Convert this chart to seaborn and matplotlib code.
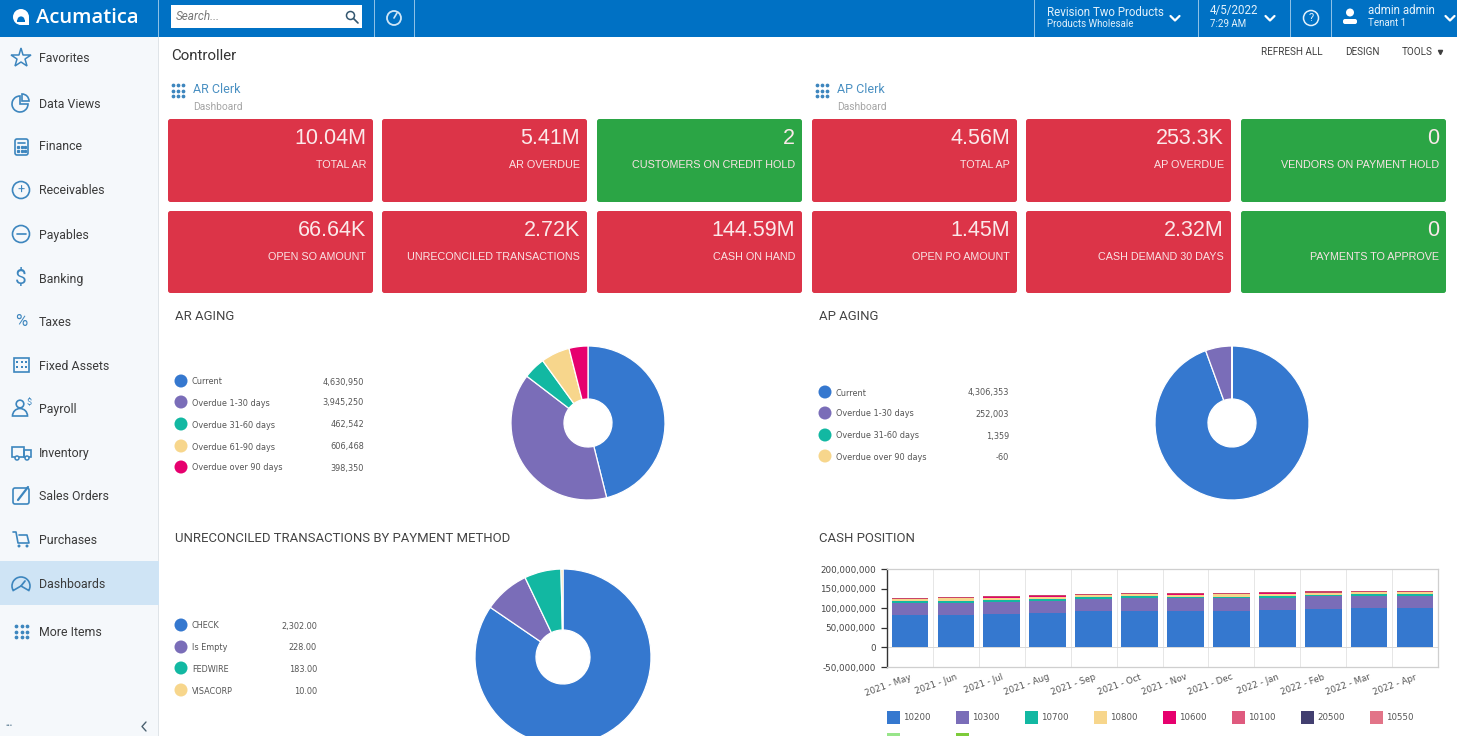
import matplotlib
matplotlib.use("Agg")
import matplotlib.pyplot as plt
from matplotlib.patches import Rectangle, FancyBboxPatch, Circle, Wedge
import numpy as np
import seaborn as sns

W, H = 1457, 736

# ---------- data ----------
ar_labels = ["Current", "Overdue 1-30 days", "Overdue 31-60 days", "Overdue 61-90 days", "Overdue over 90 days"]
ar_values = [4630950, 3945250, 462542, 606468, 398350]
ap_labels = ["Current", "Overdue 1-30 days", "Overdue 31-60 days", "Overdue over 90 days"]
ap_values = [4306353, 252003, 1359, -60]
un_labels = ["CHECK", "Is Empty", "FEDWIRE", "VISACORP"]
un_values = [2302.00, 228.00, 183.00, 10.00]

months = ["2021 - May", "2021 - Jun", "2021 - Jul", "2021 - Aug", "2021 - Sep", "2021 - Oct",
          "2021 - Nov", "2021 - Dec", "2022 - Jan", "2022 - Feb", "2022 - Mar", "2022 - Apr"]
acct_ids = ["10200", "10300", "10700", "10800", "10600", "10100", "20500", "10550", "", ""]
cash_10200 = [82, 83, 86, 88, 92, 94, 93, 93, 95, 97, 101, 101]
cash_10300 = [30, 30, 30, 30, 32, 32, 32, 32, 32, 33, 30, 30]
cash_10700 = [6, 6, 5, 5, 4, 4, 4, 4, 5, 4, 5, 5]
cash_10800 = [5, 6, 6, 6, 5, 5, 5, 6, 5, 5, 5, 5]
cash_10600 = [1, 1, 1, 1, 1, 1, 1, 1, 1, 1, 1, 1]
cash_10100 = [3, 3, 3, 3, 3, 3, 3, 3, 3, 3, 3, 3]
cash_20500 = [0] * 12
cash_10550 = [0] * 12
cash_extra1 = [0] * 12
cash_extra2 = [0] * 12

tile_values = [["10.04M", "5.41M", "2", "4.56M", "253.3K", "0"],
               ["66.64K", "2.72K", "144.59M", "1.45M", "2.32M", "0"]]
tile_labels = [["TOTAL AR", "AR OVERDUE", "CUSTOMERS ON CREDIT HOLD", "TOTAL AP", "AP OVERDUE", "VENDORS ON PAYMENT HOLD"],
               ["OPEN SO AMOUNT", "UNRECONCILED TRANSACTIONS", "CASH ON HAND", "OPEN PO AMOUNT", "CASH DEMAND 30 DAYS", "PAYMENTS TO APPROVE"]]
menu_items = ["Favorites", "Data Views", "Finance", "Receivables", "Payables", "Banking", "Taxes",
              "Fixed Assets", "Payroll", "Inventory", "Sales Orders", "Purchases", "Dashboards", "More Items"]

# ---------- style ----------
BLUE, PURPLE, TEAL, CREAM, PINK = "#3578CF", "#7A6DB8", "#12B8A2", "#F7D68C", "#E6006E"
series_colors = [BLUE, PURPLE, TEAL, CREAM, PINK, "#C94668", "#423F70", "#E27488", "#98E58A", "#7DCB3A"]
legend_colors = [BLUE, PURPLE, TEAL, CREAM, PINK, "#DF5A7E", "#423F70", "#E27488", "#98E58A", "#7DCB3A"]
HEAD = "#0071C4"; RED = "#DC3448"; GREEN = "#2BA545"; ICON = "#3D86BE"; TXT = "#3E3E3E"

sns.set_theme(style="white")
plt.rcParams["font.family"] = ["Roboto", "DejaVu Sans"]

fig = plt.figure(figsize=(W / 100, H / 100), dpi=100, facecolor="white")
ui = fig.add_axes([0, 0, 1, 1])
ui.set_xlim(0, W); ui.set_ylim(H, 0); ui.axis("off")


def px_axes(x0, y0, x1, y1, **kw):
    return fig.add_axes([x0 / W, 1 - y1 / H, (x1 - x0) / W, (y1 - y0) / H], **kw)


# ---------- header + sidebar ----------
ui.add_patch(Rectangle((0, 37), 159, H - 37, fc="#F5F8FB", ec="none"))
ui.add_patch(Rectangle((158, 37), 1, H - 37, fc="#DFE4E8", ec="none"))
ui.add_patch(Rectangle((0, 561), 159, 44, fc="#CFE4F5", ec="none"))
ui.add_patch(Rectangle((0, 0), W, 37, fc=HEAD, ec="none"))
for x in [158, 374, 414, 1034, 1198, 1290, 1331]:
    ui.add_patch(Rectangle((x, 0), 1, 37, fc="#8CC0E6", ec="none"))

ui.add_patch(Circle((21, 17), 8, fc="white", ec="none"))
ui.add_patch(Rectangle((21, 17), 8, 8, fc="white", ec="none"))
ui.add_patch(Wedge((21, 20), 3.6, 180, 360, fc=HEAD, ec="none"))
ui.add_patch(Rectangle((17.4, 20), 7.2, 2, fc=HEAD, ec="none"))
ui.text(36, 17, "Acumatica", color="white", fontsize=14.6, fontweight="semibold", va="center", family="Open Sans")
ui.add_patch(Rectangle((171, 5), 191, 23, fc="white", ec="none"))
ui.text(176, 15.5, "Search...", color="#777777", fontsize=8.5, style="italic", va="center")
ui.add_patch(Circle((350.5, 15.5), 4, fc="none", ec="#33566F", lw=1.1))
ui.plot([353.5, 358], [18.5, 23], color="#33566F", lw=1.2)
ui.add_patch(Circle((394, 18), 7, fc="none", ec="#CFE6F7", lw=1.3))
ui.plot([394, 397], [18, 13], color="#CFE6F7", lw=1.2)

ui.text(1047, 11, "Revision Two Products", color="#E3F1FB", fontsize=8.3, va="center")
ui.text(1047, 23, "Products Wholesale", color="#E3F1FB", fontsize=7, va="center")
ui.text(1210, 9.5, "4/5/2022", color="#E3F1FB", fontsize=8.3, va="center")
ui.text(1210, 23, "7:29 AM", color="#E3F1FB", fontsize=7, va="center")
ui.add_patch(Circle((1311, 18), 7.5, fc="none", ec="#E3F1FB", lw=1.1))
ui.text(1311, 17, "?", color="#E3F1FB", fontsize=8, ha="center", va="center")
ui.text(1368, 9, "admin admin", color="#E3F1FB", fontsize=8.3, va="center")
ui.text(1368, 22, "Tenant 1", color="#E3F1FB", fontsize=7, va="center")
ui.add_patch(Circle((1350, 12.5), 4, fc="white", ec="none"))
ui.add_patch(FancyBboxPatch((1343, 19), 14, 5, boxstyle="round,pad=0,rounding_size=2", fc="white", ec="none"))
for cx in [1175, 1270, 1450]:
    ui.plot([cx - 4.5, cx, cx + 4.5], [16, 20.5, 16], color="white", lw=1.6)

menu_y = [58, 103, 146, 190, 234, 278, 321, 365, 408, 452, 495, 539, 583, 631]
for name, y in zip(menu_items, menu_y):
    ui.text(39, y, name, color="#3B3B3B", fontsize=8.9, va="center")

# sidebar icons
ic = dict(fc="none", ec=ICON, lw=1.2)
ui.plot([21], [58], marker="*", ms=15, mfc="none", mec=ICON, mew=1.1)
ui.add_patch(Wedge((20, 104), 8, 0, 270, **ic))
ui.add_patch(Wedge((22, 101), 7, 270, 360, **ic))
ui.add_patch(FancyBboxPatch((15, 139), 13, 16, boxstyle="round,pad=0,rounding_size=2", **ic))
ui.plot([18, 25], [143, 143], color=ICON, lw=1.2)
ui.plot([18, 21.5, 25, 18, 21.5, 25], [147, 147, 147, 151, 151, 151], ls="none", marker="s", ms=1.3, color=ICON)
ui.add_patch(Circle((21, 190), 8.5, **ic))
ui.text(21, 189, "+", color=ICON, fontsize=9, ha="center", va="center")
ui.add_patch(Circle((21, 234), 8.5, **ic))
ui.plot([16.5, 25.5], [234, 234], color=ICON, lw=1.2)
ui.text(21, 277, "$", color=ICON, fontsize=15, ha="center", va="center")
ui.text(21, 320, "%", color=ICON, fontsize=12, ha="center", va="center")
ui.add_patch(Rectangle((14, 358), 15, 14, **ic))
for gx in [17, 21.5, 26]:
    for gy in [362, 367]:
        ui.add_patch(Rectangle((gx - 1, gy - 1), 2, 2, fc=ICON, ec="none"))
ui.add_patch(Circle((20, 404), 3.8, **ic))
ui.add_patch(Wedge((20, 416), 7.5, 180, 360, **ic))
ui.text(29, 402, "$", color=ICON, fontsize=6.5, ha="center", va="center")
ui.add_patch(Rectangle((12, 447), 12, 10, **ic))
ui.add_patch(Rectangle((24, 450), 7, 7, **ic))
ui.add_patch(Circle((17, 458), 2, fc="#F5F8FB", ec=ICON, lw=1.1))
ui.add_patch(Circle((27, 458), 2, fc="#F5F8FB", ec=ICON, lw=1.1))
ui.add_patch(FancyBboxPatch((13, 488), 16, 16, boxstyle="round,pad=0,rounding_size=2", **ic))
ui.plot([18, 28], [500, 487], color=ICON, lw=1.6)
ui.plot([13, 16, 18, 29, 27, 19], [532, 532, 543, 543, 535, 535], color=ICON, lw=1.2)
ui.add_patch(Circle((19, 546), 1.5, fc=ICON, ec="none"))
ui.add_patch(Circle((27, 546), 1.5, fc=ICON, ec="none"))
ui.add_patch(Wedge((21, 586), 9, 150, 390, **ic))
ui.plot([21, 25], [586, 581], color=ICON, lw=1.3)
dx, dy = np.meshgrid([16, 21.5, 27], [626, 631.5, 637])
ui.plot(dx.ravel(), dy.ravel(), ls="none", marker="o", ms=1.7, color=ICON)
ui.text(6, 726, "•••", color="#5F7F95", fontsize=5, va="center")
ui.plot([146, 142, 146], [722, 726.5, 731], color="#4B6170", lw=1)

# ---------- page heading ----------
ui.text(171, 55, "Controller", color="#333333", fontsize=10.8, va="center")
ui.text(1261, 51, "REFRESH ALL", color=TXT, fontsize=7.1, va="center")
ui.text(1345, 51, "DESIGN", color=TXT, fontsize=7.1, va="center")
ui.text(1402, 51, "TOOLS", color=TXT, fontsize=7.1, va="center")
ui.plot([1440], [51.5], marker="v", ms=3, color=TXT)
for x0, name in [(172, "AR Clerk"), (816, "AP Clerk")]:
    gx, gy = np.meshgrid([x0 + 1, x0 + 6, x0 + 11], [85, 90.5, 96])
    ui.plot(gx.ravel(), gy.ravel(), ls="none", marker="o", ms=1.7, color="#3D86BE")
    ui.text(x0 + 21, 88.5, name, color="#4A90C2", fontsize=9, va="center")
    ui.text(x0 + 21, 105.5, "Dashboard", color="#A5A5A5", fontsize=7.4, va="center")
ui.add_patch(Rectangle((165, 111), 1285, 8, fc="white", ec="none", zorder=3))

# ---------- tiles ----------
tile_x = [(168, 373), (382, 587), (597, 802), (812, 1017), (1026, 1231), (1241, 1446)]
tile_y = [(119, 202), (211, 293)]
for r, (y0, y1) in enumerate(tile_y):
    for c, (x0, x1) in enumerate(tile_x):
        color = GREEN if tile_values[r][c] in ("0", "2") else RED
        ui.add_patch(FancyBboxPatch((x0, y0), x1 - x0, y1 - y0, boxstyle="round,pad=0,rounding_size=2.5",
                                    fc=color, ec="none", zorder=4))
        ui.text(x1 - 7, y0 + 19, tile_values[r][c], color="#FBE9EA", fontsize=15.5, ha="right", va="center",
                zorder=5, family="Liberation Sans")
        ui.text(x1 - 7, y0 + 45, tile_labels[r][c], color="#F9E3E5", fontsize=7.75, ha="right", va="center",
                zorder=5, family="Liberation Sans")

# ---------- section titles ----------
for x, y, t in [(175, 316, "AR AGING"), (819, 316, "AP AGING"),
                (175, 538, "UNRECONCILED TRANSACTIONS BY PAYMENT METHOD"), (819, 538, "CASH POSITION")]:
    ui.text(x, y, t, color="#444444", fontsize=9.45, va="center")


def legend(labels, values, colors, x_dot, x_val, rows, fmt):
    for lab, val, col, y in zip(labels, values, colors, rows):
        ui.add_patch(Circle((x_dot, y), 6.5, fc=col, ec="none"))
        ui.text(x_dot + 11, y, lab, color="#555555", fontsize=5.9, va="center", family="DejaVu Sans")
        ui.text(x_val, y, fmt.format(val), color="#555555", fontsize=5.9, ha="right", va="center", family="DejaVu Sans")


def donut(values, colors, cx, cy, r, r_in):
    ax = px_axes(cx - r, cy - r, cx + r, cy + r)
    ax.patch.set_alpha(0)
    ax.pie([max(v, 0) for v in values], colors=colors, startangle=90, counterclock=False, radius=1,
           wedgeprops=dict(width=1 - r_in / r, edgecolor="white", linewidth=0.9))
    ax.set_xlim(-1, 1); ax.set_ylim(-1, 1)


ar_cols = [BLUE, PURPLE, TEAL, CREAM, PINK]
ap_cols = [BLUE, PURPLE, TEAL, CREAM]
legend(ar_labels, ar_values, ar_cols, 181, 364, [381, 402, 424, 446, 467], "{:,.0f}")
donut(ar_values, ar_cols, 588, 423, 77, 24)
legend(ap_labels, ap_values, ap_cols, 825, 1009, [392, 413, 435, 456], "{:,.0f}")
donut(ap_values, ap_cols, 1232, 423, 77, 24)
legend(un_labels, un_values, ap_cols, 181, 317, [625, 647, 668, 690], "{:,.2f}")
donut(un_values, ap_cols, 563, 657, 88, 27)

# ---------- cash position ----------
ax = px_axes(887, 569, 1438, 667)
ax.patch.set_alpha(0)
series = [cash_10200, cash_10300, cash_10700, cash_10800, cash_10600, cash_10100,
          cash_20500, cash_10550, cash_extra1, cash_extra2]
bottom = np.zeros(len(months))
for vals, col in zip(series, series_colors):
    amounts = np.array(vals, dtype=float) * 1e6
    sns.barplot(x=months, y=amounts, bottom=bottom, color=col, saturation=1, width=0.8,
                order=months, ax=ax, errorbar=None, zorder=3, linewidth=0)
    bottom = bottom + amounts
ax.set_ylim(-50e6, 200e6)
ax.set_xlim(-0.5, len(months) - 0.5)
ax.set_yticks(np.arange(-50e6, 200e6 + 1, 50e6))
ax.set_yticklabels([f"{int(v):,}" for v in np.arange(-50e6, 200e6 + 1, 50e6)],
                   family="DejaVu Sans", fontsize=6.3, color="#444444")
ax.set_xticks(range(len(months)))
ax.set_xticklabels(months, rotation=20, ha="right", rotation_mode="anchor",
                   family="DejaVu Sans", fontsize=6.2, color="#555555")
ax.set_xlabel(""); ax.set_ylabel("")
ax.tick_params(axis="y", length=4, width=0.9, color="#333333", pad=4, left=True)
ax.tick_params(axis="x", length=0, pad=4)
for b in np.arange(0.5, len(months) - 0.5):
    ax.axvline(b, color="#E6E6E6", lw=0.7, zorder=1)
ax.axhline(0, color="#D8D8D8", lw=0.7, zorder=1)
for side in ["top", "right", "bottom"]:
    ax.spines[side].set_color("#CFCFCF"); ax.spines[side].set_linewidth(0.9)
ax.spines["left"].set_color("#333333"); ax.spines["left"].set_linewidth(1.0)

# cash legend (two rows, second row cut by the page edge)
for i, (name, col) in enumerate(zip(acct_ids, legend_colors)):
    col_i = i % 8
    x = 887 + 69 * col_i
    y = 711 if i < 8 else 733
    ui.add_patch(Rectangle((x, y), 13, 13, fc=col, ec="none"))
    if name:
        ui.text(x + 16, y + 5.5, name, color="#555555", fontsize=6.2, va="center", family="DejaVu Sans")

# page text sits one pixel lower than matplotlib's centred box
for t in ui.texts:
    tx, ty = t.get_position()
    t.set_position((tx, ty + 1))

fig.savefig("out.png", dpi=100, facecolor="white")
